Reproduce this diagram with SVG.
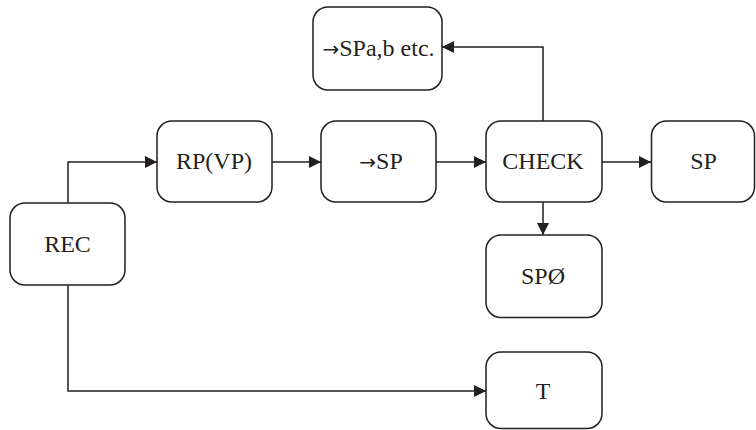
<svg xmlns="http://www.w3.org/2000/svg" width="756" height="430" viewBox="0 0 756 430">
<style>
.box{fill:#fff;stroke:#231f20;stroke-width:1.5}
text{font-family:'Liberation Serif','Times New Roman',Times,serif;font-size:24px;fill:#231f20;text-anchor:middle}
.arr{font-family:'DejaVu Sans',sans-serif;font-size:20px}
.con{fill:none;stroke:#231f20;stroke-width:1.5}
</style>
<defs>
<marker id="ah" viewBox="0 0 12 12" refX="12" refY="6" markerWidth="12" markerHeight="12" markerUnits="userSpaceOnUse" orient="auto">
<path d="M0,0 L12,6 L0,12 Z" fill="#231f20"/>
</marker>
</defs>
<g id="connectors">
<path class="con" d="M68,203 V162 H157" marker-end="url(#ah)"/>
<path class="con" d="M272,162 H321" marker-end="url(#ah)"/>
<path class="con" d="M436,162 H486" marker-end="url(#ah)"/>
<path class="con" d="M602,162 H651" marker-end="url(#ah)"/>
<path class="con" d="M543,202 V235" marker-end="url(#ah)"/>
<path class="con" d="M543,121 V47 H442" marker-end="url(#ah)"/>
<path class="con" d="M68,285 V391 H486" marker-end="url(#ah)"/>
</g>
<g id="node-rec"><rect class="box" x="10" y="203" width="115" height="82" rx="15"/><text x="67.5" y="252">REC</text></g>
<g id="node-rp"><rect class="box" x="157" y="121" width="115" height="81" rx="15"/><text x="214" y="169">RP(VP)</text></g>
<g id="node-tosp"><rect class="box" x="321" y="121" width="115" height="81" rx="15"/><text x="381" y="169"><tspan class="arr">→</tspan>SP</text></g>
<g id="node-check"><rect class="box" x="486" y="121" width="116" height="81" rx="15"/><text x="543" y="169">CHECK</text></g>
<g id="node-sp"><rect class="box" x="651.5" y="121" width="103" height="81" rx="15"/><text x="703.5" y="169">SP</text></g>
<g id="node-spa"><rect class="box" x="313" y="7" width="129" height="83" rx="15"/><text x="378.5" y="56"><tspan class="arr">→</tspan>SPa,b etc.</text></g>
<g id="node-sp0"><rect class="box" x="486" y="235" width="116" height="82.5" rx="15"/><text x="543" y="284">SPØ</text></g>
<g id="node-t"><rect class="box" x="486" y="352" width="116" height="76.5" rx="15"/><text x="543" y="399">T</text></g>
</svg>
